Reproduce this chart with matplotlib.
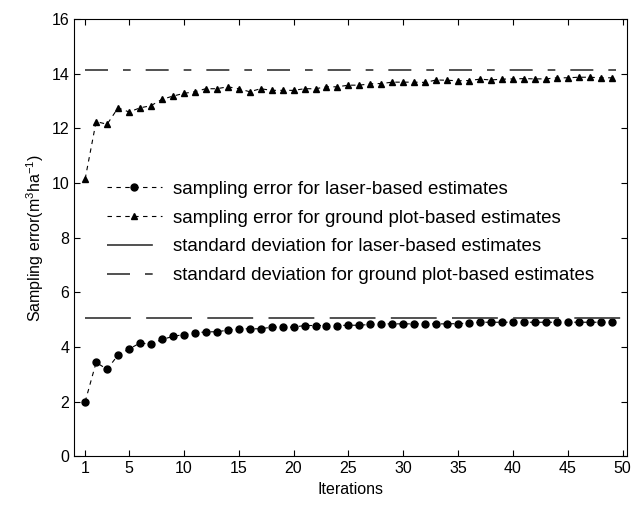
import matplotlib
matplotlib.use("Agg")
import matplotlib.pyplot as plt
import numpy as np

plt.rcParams['font.family'] = ['Liberation Sans', 'DejaVu Sans']
plt.rcParams['mathtext.fontset'] = 'custom'
plt.rcParams['mathtext.rm'] = 'Liberation Sans'
plt.rcParams['mathtext.it'] = 'Liberation Sans'

iterations = list(range(1, 50))
laser_err = [2.00, 3.44, 3.19, 3.71, 3.93, 4.15, 4.11, 4.28, 4.39, 4.46,
             4.51, 4.56, 4.56, 4.62, 4.67, 4.67, 4.67, 4.73, 4.73, 4.73,
             4.79, 4.79, 4.79, 4.79, 4.80, 4.80, 4.83, 4.85, 4.85, 4.85,
             4.85, 4.85, 4.85, 4.85, 4.86, 4.88, 4.91, 4.91, 4.91, 4.91,
             4.91, 4.91, 4.91, 4.91, 4.91, 4.91, 4.91, 4.91, 4.91]
ground_err = [10.15, 12.25, 12.15, 12.75, 12.60, 12.75, 12.83, 13.06, 13.18, 13.28,
              13.34, 13.45, 13.45, 13.52, 13.45, 13.34, 13.45, 13.39, 13.39, 13.39,
              13.45, 13.45, 13.52, 13.52, 13.58, 13.58, 13.63, 13.64, 13.69, 13.69,
              13.69, 13.68, 13.77, 13.76, 13.74, 13.75, 13.80, 13.77, 13.80, 13.81,
              13.82, 13.81, 13.81, 13.85, 13.85, 13.87, 13.87, 13.85, 13.85]
laser_sd = 5.05
ground_sd = 14.12
sd_range = [1, 50]

labels = ['sampling error for laser-based estimates',
          'sampling error for ground plot-based estimates',
          'standard deviation for laser-based estimates',
          'standard deviation for ground plot-based estimates']

xticks = [1, 5, 10, 15, 20, 25, 30, 35, 40, 45, 50]
yticks = [0, 2, 4, 6, 8, 10, 12, 14, 16]

fig = plt.figure(figsize=(6.34, 5.08), dpi=100)
ax = fig.add_axes([0.117, 0.1014, 0.872, 0.8612])

ax.plot(iterations, laser_err, color='black', linestyle=(0, (4, 4)), linewidth=0.8,
        marker='o', markersize=5, markerfacecolor='black', markeredgecolor='black',
        label=labels[0])
ax.plot(iterations, ground_err, color='black', linestyle=(0, (4, 4)), linewidth=0.8,
        marker='^', markersize=4.5, markerfacecolor='black', markeredgecolor='black',
        label=labels[1])
ax.plot(sd_range, [laser_sd, laser_sd], color='#333333', linewidth=1.2,
        linestyle=(0, (27.5, 9.2)), label=labels[2])
ax.plot(sd_range, [ground_sd, ground_sd], color='#333333', linewidth=1.2,
        linestyle=(0, (13.8, 9.0, 4.6, 9.0)), label=labels[3])

ax.set_xlim(0, 50.4)
ax.set_ylim(0, 16)
ax.set_xticks(xticks)
ax.set_yticks(yticks)
ax.tick_params(direction='in', top=True, right=True, labelsize=11.5, length=4, width=0.8)
for s in ax.spines.values():
    s.set_linewidth(0.8)

ax.set_xlabel('Iterations', fontsize=11.5)
ax.set_ylabel('Sampling error(m$^3$ha$^{-1}$)', fontsize=11.5)

leg = ax.legend(loc='upper left', bbox_to_anchor=(0.059, 0.630), frameon=False,
                fontsize=13.5, handlelength=2.93, handletextpad=0.59, labelspacing=0.62,
                borderpad=0, borderaxespad=0)

fig.savefig('out.png', dpi=100)
